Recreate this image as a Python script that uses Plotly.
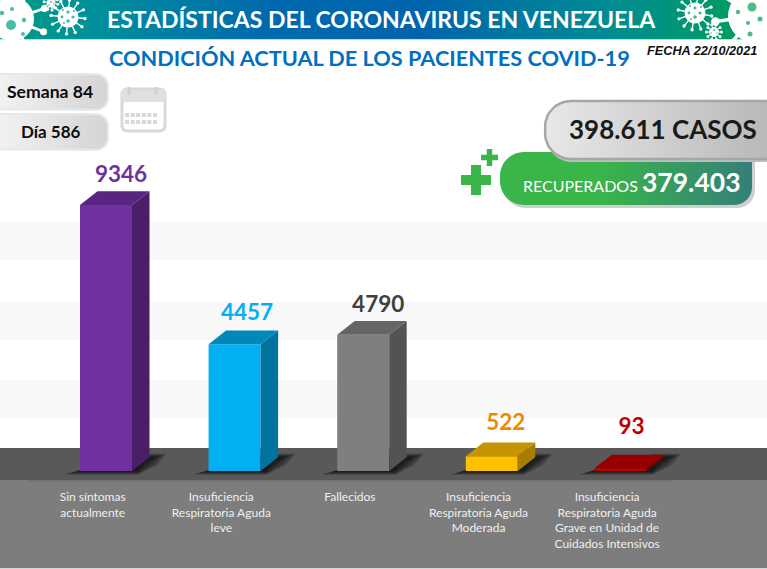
import numpy as np
import plotly.graph_objects as go

# ---------- data ----------
categories = ["Sin síntomas<br>actualmente",
              "Insuficiencia<br>Respiratoria Aguda<br>leve",
              "Fallecidos",
              "Insuficiencia<br>Respiratoria Aguda<br>Moderada",
              "Insuficiencia<br>Respiratoria Aguda<br>Grave en Unidad de<br>Cuidados Intensivos"]
values = [9346, 4457, 4790, 522, 93]
front_colors = ["#7030A0", "#00B0F0", "#7F7F7F", "#FFC000", "#C00000"]
side_colors = ["#4A1F68", "#00739E", "#535353", "#A67D00", "#7E0000"]
top_colors = ["#582680", "#0088BA", "#656565", "#C49500", "#960000"]
label_colors = ["#7030A0", "#00B0F0", "#404040", "#ED8B00", "#C00000"]

W, H = 767, 569
PITCH = 128.6
TICK0 = 92.7          # pixel of first category tick
BASE = 471.0          # pixel of value 0
UNITS_PER_PX = 35.14
BAR_W = 52 / PITCH
BAR_OFF = (80 - TICK0) / PITCH
DX = 17.5 / PITCH
DY = 13.7 * UNITS_PER_PX

fig = go.Figure()


def px_x(v):
    return v / W


def px_y(v):
    return 1 - v / H


def rect(x0, y0, x1, y1, color):
    return dict(type="rect", xref="paper", yref="paper", layer="below", x0=px_x(x0), x1=px_x(x1),
                y0=px_y(y1), y1=px_y(y0), fillcolor=color, line_width=0)


shapes = []
for y0, y1 in [(222, 260), (302, 340), (380, 418)]:
    shapes.append(rect(0, y0, W, y1, "#F8F8F8"))
shapes.append(rect(0, 448, W, 480, "#595959"))
shapes.append(rect(0, 480, W, 568, "#7D7D7D"))
shapes.append(rect(28, 480, 672, 481.5, "#707070"))
shapes.append(rect(0, 568, W, 569, "#D5D5D5"))

# floor shadows
for i in range(len(values)):
    x = 80 + PITCH * i
    for g in range(6):
        e = 7 - 2.4 * g
        pts = [(x - 9 - e, 472.5 + e / 3), (x + 58, 472.5 + e / 3), (x + 70 + e, 463 + e / 3),
               (x + 80 + e, 456 - e / 3), (x + 60, 456 - e / 3)]
        path = "M" + " L".join(f"{px_x(a):.5f},{px_y(b):.5f}" for a, b in pts) + " Z"
        shapes.append(dict(type="path", xref="paper", yref="paper", layer="below", path=path,
                           fillcolor="rgba(10,10,10,0.22)", line_width=0))

# ---------- bars ----------
for i, v in enumerate(values):
    left = i + BAR_OFF
    right = left + BAR_W
    fig.add_trace(go.Scatter(x=[right, right + DX, right + DX, right, right],
                             y=[0, DY, v + DY, v, 0], fill="toself", mode="none",
                             fillcolor=side_colors[i], hoverinfo="skip", showlegend=False))
    fig.add_trace(go.Scatter(x=[left, left + DX, right + DX, right, left],
                             y=[v, v + DY, v + DY, v, v], fill="toself", mode="none",
                             fillcolor=top_colors[i], hoverinfo="skip", showlegend=False))

fig.add_trace(go.Bar(x=list(range(len(values))), y=values, width=BAR_W, offset=BAR_OFF,
                     marker=dict(color=front_colors, line_width=0), showlegend=False,
                     hoverinfo="x+y"))

label_gap = [540, 570, 500, 640, 930]
label_shift = [0.22, 0.2, 0.22, 0.212, 0.19]
fig.add_trace(go.Scatter(x=[i + s for i, s in enumerate(label_shift)],
                         y=[v + DY + g for v, g in zip(values, label_gap)],
                         mode="text", text=[str(v) for v in values],
                         textposition="middle center",
                         textfont=dict(family="Lato", size=22.5, color=label_colors, weight="bold"),
                         hoverinfo="skip", showlegend=False))


# ---------- decoration on pixel axes ----------
def deco(x, y, **kw):
    fig.add_trace(go.Scatter(x=x, y=y, xaxis="x2", yaxis="y2", hoverinfo="skip",
                             showlegend=False, **kw))


def rrect(x0, y0, x1, y1, rtl, rtr, rbr, rbl):
    out = []
    for cx, cy, r, a0 in [(x1 - rtr, y0 + rtr, rtr, -90), (x1 - rbr, y1 - rbr, rbr, 0),
                          (x0 + rbl, y1 - rbl, rbl, 90), (x0 + rtl, y0 + rtl, rtl, 180)]:
        for a in np.radians(np.linspace(a0, a0 + 90, 14)):
            out.append((cx + r * np.cos(a), cy + r * np.sin(a)))
    out.append(out[0])
    return [p[0] for p in out], [p[1] for p in out]


def fill_grad(x, y, stops, line=None, lw=0):
    kw = dict(mode="lines" if line else "none", fill="toself",
              fillgradient=dict(type="horizontal", colorscale=stops))
    if line:
        kw["line"] = dict(color=line, width=lw)
    deco(x, y, **kw)


def fill_solid(x, y, color):
    deco(x, y, mode="none", fill="toself", fillcolor=color)


# header
fill_grad([0, W, W, 0, 0], [0, 0, 39, 39, 0],
          [[0, "#009C84"], [0.13, "#008F9C"], [0.35, "#0069AE"], [0.55, "#0064AC"],
           [0.8, "#008D92"], [1, "#00A054"]])
fill_solid([0, W, W, 0, 0], [39, 39, 40, 40, 39], "#BBDDEE")


def virus(cx, cy, r, spike, n, rot, holes, hole_color, ball=None):
    xs, ys, bx, by = [], [], [], []
    for a in np.radians(rot + np.arange(n) * 360 / n):
        xs += [cx + r * 0.8 * np.cos(a), cx + spike * np.cos(a), None]
        ys += [cy + r * 0.8 * np.sin(a), cy + spike * np.sin(a), None]
        bx.append(cx + spike * np.cos(a))
        by.append(cy + spike * np.sin(a))
    lw = max(1, r * 0.13)
    deco(xs, ys, mode="lines", line=dict(color="white", width=lw))
    deco(bx, by, mode="markers", marker=dict(color="white", size=ball or max(3, r * 0.32), line_width=0))
    deco([cx], [cy], mode="markers", marker=dict(color="white", size=2 * r, line_width=0))
    if holes:
        deco([h[0] for h in holes], [h[1] for h in holes], mode="markers",
             marker=dict(color=hole_color, size=[2 * h[2] for h in holes], line_width=0))


virus(12, 19, 22, 34, 9, -18, [(11, 25, 5), (2, 13, 2.2), (24, 20, 2.2), (23, 34, 2), (12, 9, 2)], "#009C84")
virus(68, 17, 10.5, 17, 12, 5,
      [(68, 12, 1.6), (62, 17, 1.4), (73, 17, 1.6), (68, 21, 1.8), (63, 10, 1), (74, 11, 1), (64, 23, 1)], "#00939A")
virus(51, 3, 4.5, 7, 10, 10, [(51, 2, 1), (49, 5, 0.8), (54, 4, 0.8)], "#009A88")
virus(695, 13, 10.5, 17, 12, 10,
      [(695, 8, 1.6), (689, 13, 1.4), (700, 13, 1.6), (695, 17, 1.8), (690, 6, 1), (701, 7, 1), (691, 19, 1)], "#009578")
virus(714, 32, 5, 7.5, 10, 0, [(714, 30, 1), (711, 33, 0.8), (717, 33, 0.8)], "#009C62")
virus(755, 16, 27, 40, 9, 172, [(752, 7, 4.5), (738, 12, 2.2), (748, 23, 2), (760, 19, 2.5), (750, 34, 2.5)], "#00A054")

# left pills
for y0, y1 in [(74, 110), (114, 150)]:
    px, py = rrect(-20, y0, 108, y1, 12, 12, 12, 12)
    fill_grad(px, py, [[0, "#F7F7F7"], [1, "#D4D4D4"]], "#E8E8E8", 2)

# calendar
cx, cy = rrect(122, 89, 165, 131, 5, 5, 5, 5)
deco(cx, cy, mode="lines", line=dict(color="#D9D9D9", width=3))
fill_solid([122, 165, 165, 122, 122], [90, 90, 102, 102, 90], "#E0E0E0")
deco([129, 129, None, 156, 156], [87, 95, None, 87, 95], mode="lines", line=dict(color="#D2D2D2", width=3))
grid_x = [127 + 5.6 * k for k in range(6)]
deco(grid_x * 2, [115] * 6 + [122] * 6, mode="markers",
     marker=dict(symbol="square", size=4, color="#D8D8D8", line_width=0))

# recuperados pill with shadow
sx, sy = rrect(502, 155, 755, 208, 24, 6, 18, 24)
fill_solid(sx, sy, "#CFCFCF")
rx, ry = rrect(500, 152, 752, 205, 24, 6, 18, 24)
fill_grad(rx, ry, [[0, "#39B54A"], [0.4, "#39B54A"], [1, "#347F7A"]])

# casos pill
sx, sy = rrect(546, 104, 790, 162, 26, 0, 0, 26)
fill_solid(sx, sy, "#BFBFBF")
kx, ky = rrect(545, 101, 790, 159, 26, 0, 0, 26)
fill_grad(kx, ky, [[0, "#E8E8E8"], [1, "#B4B4B4"]], "#A6A6A6", 2.5)

# plus signs
for pcx, pcy, arm, t in [(476, 180, 15, 10), (489.5, 157.5, 8.5, 5.5)]:
    fill_solid([pcx - arm, pcx + arm, pcx + arm, pcx - arm, pcx - arm],
               [pcy - t / 2, pcy - t / 2, pcy + t / 2, pcy + t / 2, pcy - t / 2], "#39B54A")
    fill_solid([pcx - t / 2, pcx + t / 2, pcx + t / 2, pcx - t / 2, pcx - t / 2],
               [pcy - arm, pcy - arm, pcy + arm, pcy + arm, pcy - arm], "#39B54A")


def txt(x, y, s, size, color, bold=True, family="Lato", italic=False, anchor="center"):
    return dict(xref="x2", yref="y2", x=x, y=y, text=s, showarrow=False, xanchor=anchor, yanchor="middle",
                font=dict(family=family, size=size, color=color, weight="bold" if bold else "normal",
                          style="italic" if italic else "normal"))


annotations = [
    txt(381, 18.5, "ESTADÍSTICAS DEL CORONAVIRUS EN VENEZUELA", 23, "white"),
    txt(369, 58, "CONDICIÓN ACTUAL DE LOS PACIENTES COVID-19", 21.7, "#0070C0"),
    txt(702, 51, "FECHA 22/10/2021", 12.7, "#111111", family="Liberation Sans", italic=True),
    txt(50, 91, "Semana 84", 17.6, "#0D0D0D"),
    txt(51, 131, "Día 586", 17, "#0D0D0D"),
    txt(663, 129, "398.611 CASOS", 26, "#1A1A1A"),
    txt(580, 185, "RECUPERADOS", 16, "white", bold=False),
    txt(691, 182, "379.403", 26.5, "white"),
]

fig.update_layout(
    width=W, height=H, margin=dict(l=0, r=0, t=0, b=0), paper_bgcolor="white",
    plot_bgcolor="rgba(0,0,0,0)", showlegend=False, shapes=shapes, annotations=annotations,
    xaxis=dict(range=[-TICK0 / PITCH, (W - TICK0) / PITCH], domain=[0, 1], anchor="free",
               position=1 - 488 / H, tickmode="array", tickvals=list(range(len(values))),
               ticktext=categories, ticks="", showline=False, showgrid=False, zeroline=False,
               tickangle=0, tickfont=dict(family="Lato", size=12, color="#F0F0F0"), fixedrange=True),
    yaxis=dict(range=[(BASE - H) * UNITS_PER_PX, BASE * UNITS_PER_PX], domain=[0, 1], visible=False,
               fixedrange=True),
    xaxis2=dict(range=[0, W], overlaying="x", visible=False, anchor="y2", fixedrange=True),
    yaxis2=dict(range=[H, 0], overlaying="y", visible=False, anchor="x2", fixedrange=True),
)
fig.write_html("out.html", config=dict(displayModeBar=False),
               post_script="document.body.style.margin='0';document.documentElement.style.overflow='hidden';")
